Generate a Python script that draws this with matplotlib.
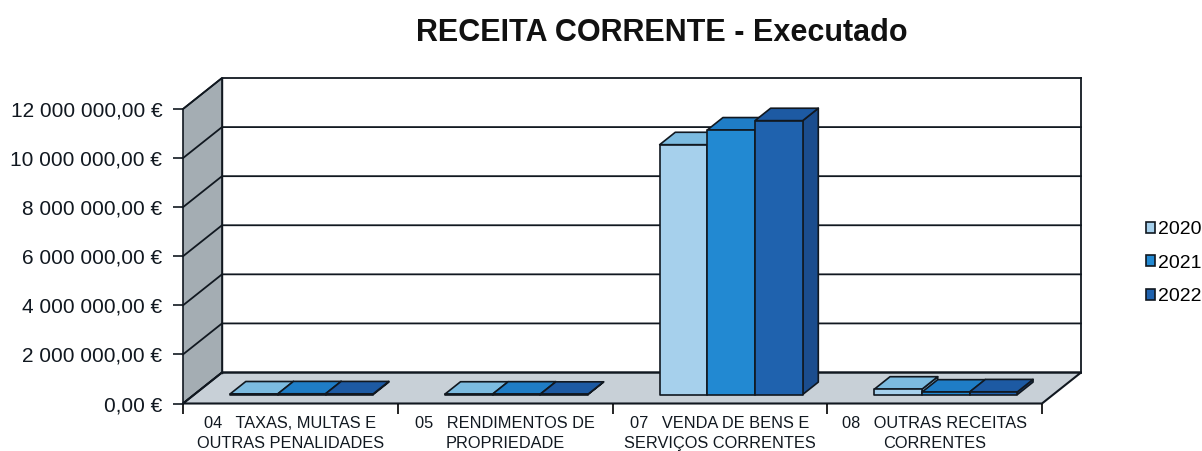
import matplotlib
matplotlib.use("Agg")
import matplotlib.pyplot as plt
from matplotlib.patches import Polygon, Patch
from matplotlib.ticker import FuncFormatter

plt.rcParams['font.family'] = ['Liberation Sans', 'DejaVu Sans']

# data
categories = ["04   TAXAS, MULTAS E\nOUTRAS PENALIDADES",
              "05   RENDIMENTOS DE\nPROPRIEDADE",
              "07   VENDA DE BENS E\nSERVIÇOS CORRENTES",
              "08   OUTRAS RECEITAS\nCORRENTES"]
years = ["2020", "2021", "2022"]
v2020 = [25000, 15000, 10180000, 220000]
v2021 = [30000, 18000, 10780000, 100000]
v2022 = [28000, 12000, 11160000, 110000]
yticks = [0, 2e6, 4e6, 6e6, 8e6, 10e6, 12e6]

# colours: (front, top, side)
bar_colors = [("#a6d0ec", "#7cbbe0", "#86b8d8"),
              ("#2289d2", "#1f7dc6", "#1b6fb2"),
              ("#1f62ae", "#1d5aa3", "#1b4d8e")]
wall_color = "#a4adb3"
floor_color = "#c8d0d7"
edge = "#111820"

# 3d look: depth shift of the back plane in data units
DX = 0.1816
DY = 1.263e6
D0, D1 = 0.29, 0.69     # bar depth range
BAR_W = 0.222

fig = plt.figure(figsize=(12.02, 4.51), dpi=100)
ax = fig.add_axes([183 / 1202, (451 - 403.5) / 451, 859 / 1202, 294.5 / 451])
ax.set_xlim(0, 4)
ax.set_ylim(0, 12e6)


def P(x, y, d):
    return (x + d * DX, y + d * DY)


def poly(pts, fc, z, lw=1.2, ec=edge):
    ax.add_patch(Polygon(pts, closed=True, facecolor=fc, edgecolor=ec,
                         linewidth=lw, zorder=z, clip_on=False, joinstyle='round'))


top = yticks[-1]
ncat = len(categories)

# side wall and floor
poly([P(0, 0, 0), P(0, top, 0), P(0, top, 1), P(0, 0, 1)], wall_color, 1)
poly([P(0, 0, 0), P(ncat, 0, 0), P(ncat, 0, 1), P(0, 0, 1)], floor_color, 1, lw=1.5)

# grid lines on wall and back
for v in yticks:
    xs, ys = zip(P(0, v, 0), P(0, v, 1), P(ncat, v, 1))
    ax.plot(xs, ys, color=edge, lw=1.3, zorder=2, clip_on=False)
xs, ys = zip(P(ncat, 0, 1), P(ncat, top, 1))
ax.plot(xs, ys, color=edge, lw=1.3, zorder=2, clip_on=False)
xs, ys = zip(P(0, 0, 1), P(0, top, 1))
ax.plot(xs, ys, color=edge, lw=1.0, zorder=2, clip_on=False)

# bars
series = [v2020, v2021, v2022]
for i in range(ncat):
    x_start = i + 0.5 - BAR_W * len(series) / 2
    for j, vals in enumerate(series):
        x0 = x_start + j * BAR_W
        x1 = x0 + BAR_W
        h = vals[i]
        fc, tc, sc = bar_colors[j]
        z = 3 + i * 0.1 + j * 0.01
        poly([P(x1, 0, D0), P(x1, h, D0), P(x1, h, D1), P(x1, 0, D1)], sc, z)
        poly([P(x0, h, D0), P(x1, h, D0), P(x1, h, D1), P(x0, h, D1)], tc, z)
        poly([P(x0, 0, D0), P(x1, 0, D0), P(x1, h, D0), P(x0, h, D0)], fc, z)

# axes, ticks
for s in ax.spines.values():
    s.set_visible(False)
ax.patch.set_visible(False)
ax.set_yticks(yticks)
ax.yaxis.set_major_formatter(FuncFormatter(
    lambda v, p: f"{v:,.2f} €".replace(",", " ").replace(".", ",")))
ax.tick_params(axis='y', direction='out', length=7, width=1.2, pad=8,
               labelsize=15, colors=edge)
ax.set_xticks(range(ncat + 1))
ax.set_xticklabels([])
ax.set_xticks([i + 0.5 for i in range(ncat)], minor=True)
ax.set_xticklabels(categories, minor=True, linespacing=1.4)
ax.tick_params(axis='x', which='major', direction='out', length=7, width=1.2)
ax.tick_params(axis='x', which='minor', length=0, pad=9, labelsize=11.8,
               colors=edge)

fig.text(662 / 1202, 1 - 33 / 451, "RECEITA CORRENTE - Executado",
         ha='center', va='center', fontsize=22, fontweight='bold', color='#111')

handles = [Patch(facecolor=c[0], edgecolor=edge, linewidth=1.2) for c in bar_colors]
fig.legend(handles, years, loc='center left',
           bbox_to_anchor=(1136 / 1202, 1 - 263 / 451), frameon=False,
           fontsize=14, handlelength=0.5, handleheight=0.5,
           handletextpad=0.15, labelspacing=0.85, borderpad=0)

fig.savefig("out.png", dpi=100, facecolor='white')
